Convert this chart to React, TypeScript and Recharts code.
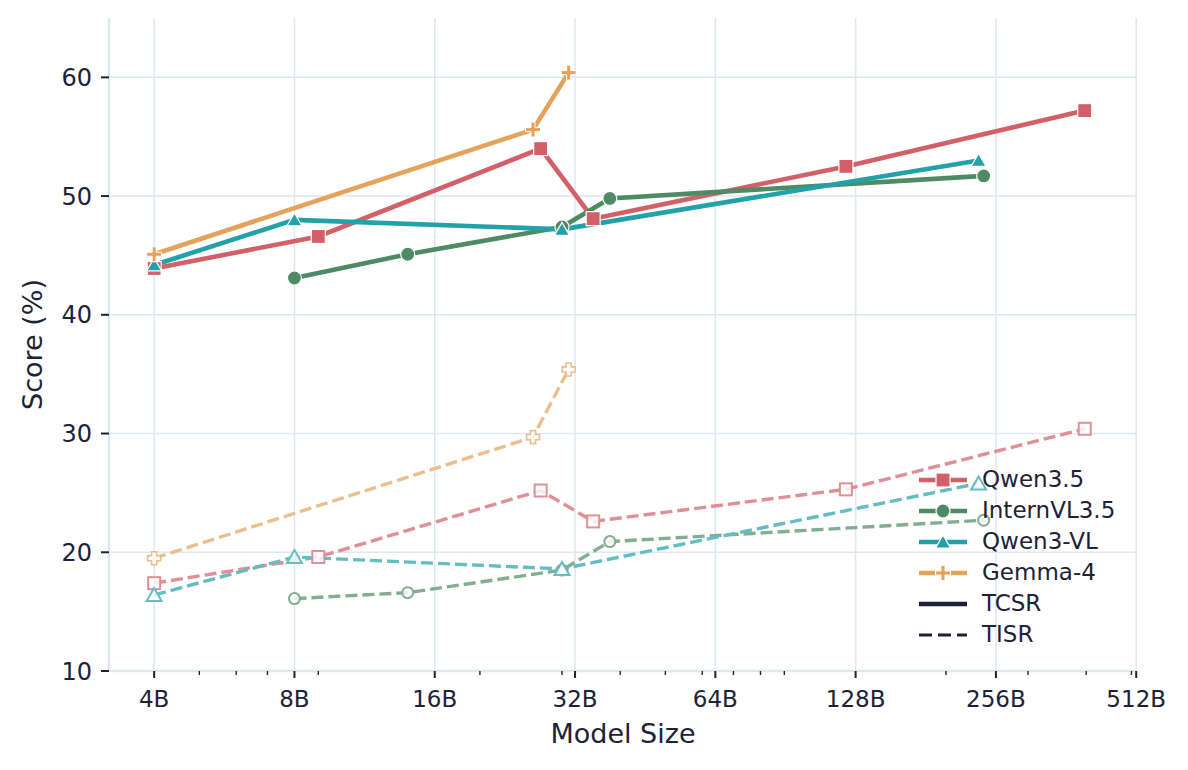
import { LineChart, Line, XAxis, YAxis, CartesianGrid, Legend, Label } from 'recharts'

document.body.style.margin = '0'

const INK = '#1e2235'
const GRID = '#dfe7ef'
const FONT = '"DejaVu Sans", sans-serif'

// axis ticks
const majorSizes = [4, 8, 16, 32, 64, 128, 256, 512]
const minorSizes = [5, 6, 7, 9, 20, 30, 40, 50, 60, 70, 80, 90, 200, 300, 400, 500]
const yTicks = [10, 20, 30, 40, 50, 60]

// model sizes (B params) and scores (%)
const qwen35Sizes = [4, 9, 27, 35, 122, 397]
const qwen35Tcsr = [43.9, 46.6, 54.0, 48.1, 52.5, 57.2]
const qwen35Tisr = [17.4, 19.6, 25.2, 22.6, 25.3, 30.4]

const internSizes = [8, 14, 30, 38, 241]
const internTcsr = [43.1, 45.1, 47.4, 49.8, 51.7]
const internTisr = [16.1, 16.6, 18.5, 20.9, 22.7]

const qwen3vlSizes = [4, 8, 30, 235]
const qwen3vlTcsr = [44.2, 48.0, 47.2, 53.0]
const qwen3vlTisr = [16.4, 19.6, 18.6, 25.8]

const gemmaSizes = [4, 26, 31]
const gemmaTcsr = [45.1, 55.6, 60.4]
const gemmaTisr = [19.5, 29.7, 35.4]

type Shape = 'square' | 'circle' | 'triangle' | 'plus'

const models = [
  { name: 'Qwen3.5', color: '#d35f69', light: '#e08f96', shape: 'square' as Shape, sizes: qwen35Sizes, tcsr: qwen35Tcsr, tisr: qwen35Tisr },
  { name: 'InternVL3.5', color: '#4e8a63', light: '#83ad91', shape: 'circle' as Shape, sizes: internSizes, tcsr: internTcsr, tisr: internTisr },
  { name: 'Qwen3-VL', color: '#22a1a9', light: '#64bdc2', shape: 'triangle' as Shape, sizes: qwen3vlSizes, tcsr: qwen3vlTcsr, tisr: qwen3vlTisr },
  { name: 'Gemma-4', color: '#e3a35a', light: '#ebbf8c', shape: 'plus' as Shape, sizes: gemmaSizes, tcsr: gemmaTcsr, tisr: gemmaTisr },
]

const toPoints = (sizes: number[], vals: number[]) => sizes.map((x, i) => ({ x, y: vals[i] }))

function plusPath(cx: number, cy: number, L: number, t: number) {
  return `M${cx - t},${cy - L}H${cx + t}V${cy - t}H${cx + L}V${cy + t}H${cx + t}V${cy + L}H${cx - t}V${cy + t}H${cx - L}V${cy - t}H${cx - t}Z`
}

function Marker({ cx, cy, shape, color, hollow }: { cx?: number; cy?: number; shape: Shape; color: string; hollow?: boolean }) {
  if (cx == null || cy == null) return null
  const fill = hollow ? 'rgba(255,255,255,0.8)' : color
  const stroke = hollow ? color : '#ffffff'
  const sw = hollow ? 2 : 1.2
  if (shape === 'square') {
    const h = hollow ? 6 : 7
    return <rect x={cx - h} y={cy - h} width={2 * h} height={2 * h} fill={fill} stroke={stroke} strokeWidth={sw} />
  }
  if (shape === 'circle') {
    return <circle cx={cx} cy={cy} r={hollow ? 5.5 : 7} fill={fill} stroke={stroke} strokeWidth={sw} />
  }
  if (shape === 'triangle') {
    const w = 7.5
    return (
      <polygon
        points={`${cx},${cy - 7} ${cx - w},${cy + 6} ${cx + w},${cy + 6}`}
        fill={fill}
        stroke={stroke}
        strokeWidth={sw}
      />
    )
  }
  return <path d={hollow ? plusPath(cx, cy, 6.5, 2.6) : plusPath(cx, cy, 7.5, 2)} fill={fill} stroke={stroke} strokeWidth={hollow ? 1.6 : 1} />
}

function XTick(props: any) {
  const { x, y, payload } = props
  const major = majorSizes.includes(payload.value)
  return (
    <g>
      <line x1={x} x2={x} y1={y} y2={y + (major ? 7 : 4)} stroke={INK} strokeWidth={major ? 2 : 1.4} />
      {major && (
        <text x={x} y={y + 36} textAnchor="middle" fontSize={23} fill={INK}>
          {`${payload.value}B`}
        </text>
      )}
    </g>
  )
}

const legendItems = [
  ...models.map((m) => ({ label: m.name, color: m.color, shape: m.shape as Shape | null, dash: false })),
  { label: 'TCSR', color: INK, shape: null, dash: false },
  { label: 'TISR', color: INK, shape: null, dash: true },
]

function renderLegend() {
  return (
    <div style={{ display: 'flex', flexDirection: 'column', fontFamily: FONT }}>
      {legendItems.map((item) => (
        <div key={item.label} style={{ display: 'flex', alignItems: 'center', height: 31, lineHeight: '31px' }}>
          <svg width={48} height={20} style={{ marginRight: 15, overflow: 'visible' }}>
            <line
              x1={0}
              x2={48}
              y1={10}
              y2={10}
              stroke={item.color}
              strokeWidth={item.dash ? 2.8 : 4.6}
              strokeDasharray={item.dash ? '13 6' : undefined}
            />
            {item.shape && <Marker cx={24} cy={10} shape={item.shape} color={item.color} />}
          </svg>
          <span style={{ fontSize: 23, color: INK }}>{item.label}</span>
        </div>
      ))}
    </div>
  )
}

export default function App() {
  return (
    <div style={{ width: 1188, height: 770, background: '#fff', fontFamily: FONT }}>
      <LineChart width={1188} height={770} margin={{ top: 18, right: 51, left: 0, bottom: 0 }}>
        <CartesianGrid stroke={GRID} strokeWidth={1.5} verticalValues={majorSizes} horizontalValues={yTicks} />
        <XAxis
          dataKey="x"
          type="number"
          scale="log"
          domain={[3.2, 514]}
          allowDataOverflow
          ticks={[...majorSizes, ...minorSizes]}
          interval={0}
          tick={<XTick />}
          tickLine={false}
          tickSize={0}
          tickMargin={0}
          axisLine={{ stroke: GRID, strokeWidth: 2.5 }}
          height={99}
        >
          <Label value="Model Size" position="insideBottom" offset={27} fontSize={27} fill={INK} />
        </XAxis>
        <YAxis
          type="number"
          domain={[10, 65]}
          ticks={yTicks}
          width={109}
          tickSize={8}
          tickMargin={9}
          tick={{ fontSize: 24, fill: INK }}
          tickLine={{ stroke: INK, strokeWidth: 2 }}
          axisLine={{ stroke: GRID, strokeWidth: 2.5 }}
        >
          <Label
            content={({ viewBox }: any) => {
              const lx = viewBox.x + 42
              const ly = viewBox.y + viewBox.height / 2
              return (
                <text x={lx} y={ly} transform={`rotate(-90 ${lx} ${ly})`} textAnchor="middle" fontSize={27} fill={INK}>
                  Score (%)
                </text>
              )
            }}
          />
        </YAxis>
        {models.map((m) => (
          <Line
            key={`${m.name}-tisr`}
            data={toPoints(m.sizes, m.tisr)}
            dataKey="y"
            stroke={m.light}
            strokeWidth={3.4}
            strokeDasharray="12 5"
            isAnimationActive={false}
            activeDot={false}
            dot={(p: any) => <Marker key={p.index} cx={p.cx} cy={p.cy} shape={m.shape} color={m.light} hollow />}
          />
        ))}
        {models.map((m) => (
          <Line
            key={`${m.name}-tcsr`}
            data={toPoints(m.sizes, m.tcsr)}
            dataKey="y"
            stroke={m.color}
            strokeWidth={4.6}
            isAnimationActive={false}
            activeDot={false}
            dot={(p: any) => <Marker key={p.index} cx={p.cx} cy={p.cy} shape={m.shape} color={m.color} />}
          />
        ))}
        <Legend
          layout="vertical"
          align="center"
          verticalAlign="middle"
          content={renderLegend}
          wrapperStyle={{ left: 919, top: 464, width: 240 }}
        />
      </LineChart>
    </div>
  )
}
